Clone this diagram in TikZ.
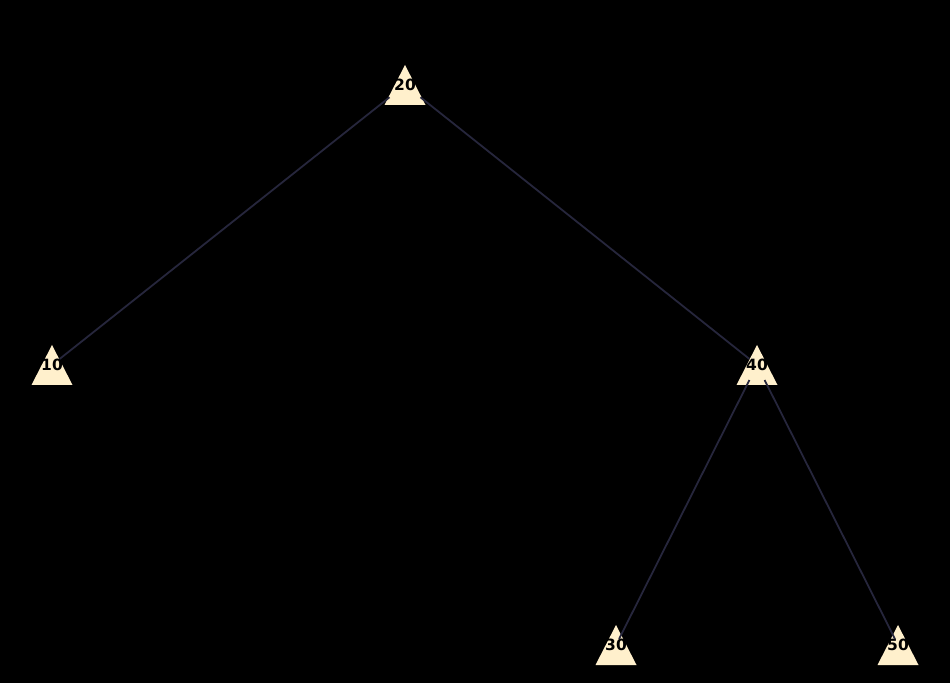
\documentclass[tikz,border=0pt]{standalone}
\usepackage{fontspec}
\setmainfont{DejaVu Sans}
\usepackage{tikz}
\usetikzlibrary{calc}

\definecolor{trifill}{HTML}{FFF0CC}
\definecolor{edgecol}{HTML}{26263C}

\begin{document}
\begin{tikzpicture}[x=1pt, y=1pt,
    numlabel/.style={inner sep=0pt, font=\fontsize{15.5}{15.5}\selectfont\bfseries, text=black},
    tri/.style={fill=trifill},
    edge/.style={edgecol, line width=1.8pt, shorten <=10pt}]
    % Background
    \fill[black] (0,0) rectangle (950,683);
    \useasboundingbox (0,0) rectangle (950,683);

    % Node positions
    \coordinate (p20) at (405,598);
    \coordinate (p10) at (52,318);
    \coordinate (p40) at (757,318);
    \coordinate (p30) at (616,38);
    \coordinate (p50) at (898,38);

    % Triangles
    \foreach \n in {20,10,40,30,50} {
        \fill[tri] ($(p\n)+(0,20)$) -- ++(20.5,-40) -- ++(-41,0) -- cycle;
    }

    % Labels
    \foreach \n in {20,10,40,30,50} {
        \node[numlabel] (n\n) at (p\n) {\n};
    }

    % Edges
    \draw[edge] (n20) -- (n10);
    \draw[edge] (n20) -- (n40);
    \draw[edge] (n40) -- (n30);
    \draw[edge] (n40) -- (n50);
\end{tikzpicture}
\end{document}
